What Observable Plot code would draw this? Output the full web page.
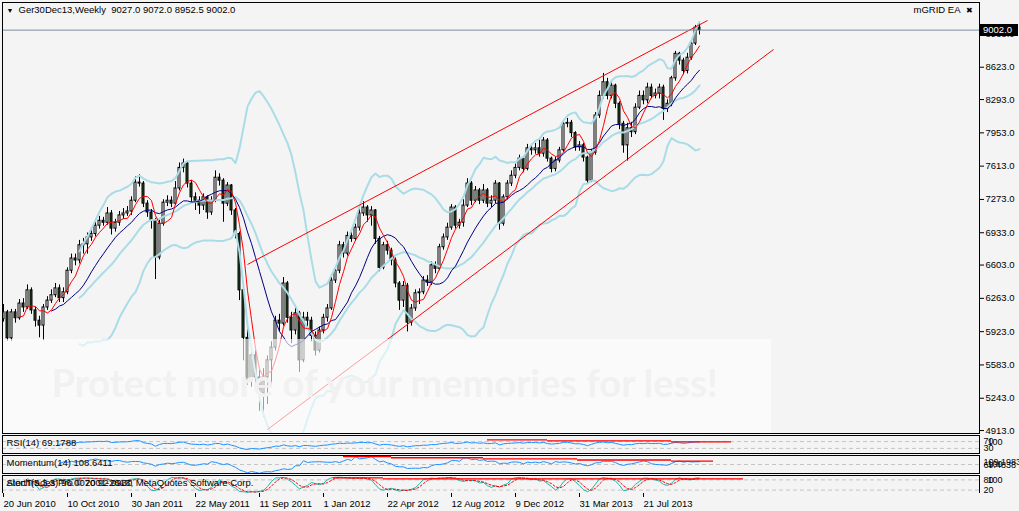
<!DOCTYPE html>
<html><head><meta charset="utf-8">
<script src="https://cdn.jsdelivr.net/npm/d3@7"></script>
<script src="https://cdn.jsdelivr.net/npm/@observablehq/plot@0.6"></script>
<style>
html,body{margin:0;padding:0;background:#f4f4f4;}
#wrap{position:relative;width:1019px;height:511px;overflow:hidden;background:#f4f4f4;}
#wrap svg{position:absolute;left:0;}
</style></head><body><div id="wrap"></div>
<script>
// ---- DATA (weekly Ger30 Dec13) ----
const closes = [6120,5855,6120,6060,6210,6170,6345,6140,6035,5985,6170,6240,6295,6365,6265,6325,6545,6670,6650,6805,
6815,6885,6920,7005,7055,7035,7130,6975,7035,7110,7130,7150,7260,7445,7435,7230,7140,7055,6680,7025,
7240,7260,7230,7385,7595,7640,7435,7295,7260,7210,7295,7140,7260,7495,7465,7230,7415,7160,6920,6345,
5860,5425,5680,5455,5290,5455,5630,5760,6035,6005,6415,6065,5935,6110,5630,6065,6035,5880,5730,5935,
6065,6160,6445,6545,6805,6720,6900,6870,6985,7130,7190,7110,7160,6870,6575,6805,6750,6650,6415,6240,
6390,6015,6160,6315,6325,6445,6425,6600,6565,6785,6885,6985,7190,7005,7035,7210,7435,7260,7365,7260,
7365,7230,7260,7435,7025,7295,7435,7515,7595,7690,7585,7795,7775,7795,7740,7875,7690,7585,7670,7775,
8045,8055,7950,7805,7825,7700,7465,7750,8130,8330,8470,8330,8435,8250,8045,7825,8000,7960,8210,8330,
8285,8415,8330,8355,8415,8200,8250,8510,8760,8690,8585,8720,8865,9027,9002];
const highs = [6200,6140,6150,6150,6250,6260,6400,6370,6170,6080,6200,6280,6350,6415,6400,6370,6575,6715,6715,6855,
6875,6930,6970,7070,7100,7090,7190,7160,7070,7150,7180,7200,7300,7505,7525,7455,7260,7170,7080,7060,
7270,7310,7300,7455,7645,7685,7655,7465,7340,7300,7330,7310,7300,7565,7535,7485,7445,7425,7180,6940,
6360,5970,5745,5725,5525,5545,5675,5820,6080,6100,6475,6435,6120,6170,6130,6120,6120,6070,5920,5970,
6100,6200,6475,6585,6845,6835,6940,6950,7020,7170,7250,7210,7200,7170,6895,6835,6845,6775,6675,6435,
6435,6415,6200,6350,6360,6485,6495,6635,6635,6815,6920,7030,7220,7210,7070,7270,7485,7455,7405,7385,
7425,7385,7310,7465,7445,7320,7465,7565,7635,7725,7705,7835,7835,7845,7895,7905,7895,7705,7705,7805,
8070,8100,8080,7965,7865,7845,7715,7785,8160,8380,8560,8510,8470,8450,8270,8070,8050,8060,8250,8380,
8380,8460,8450,8400,8450,8440,8290,8530,8785,8775,8715,8765,8905,9050,9072];
const lows = [6020,5825,5825,6010,6040,6120,6150,6100,5970,5860,5830,6140,6210,6270,6220,6220,6300,6515,6595,6615,
6715,6715,6845,6890,6970,7000,7010,6910,6940,7000,7070,7100,7110,7240,7400,7190,7090,6970,6455,6655,
7000,7200,7190,7210,7360,7545,7390,7240,7160,7120,7160,7070,7110,7240,7410,7040,7200,7110,6870,6240,
5625,5375,5355,5375,5110,5050,5180,5375,5725,5920,5980,6010,5800,5890,5505,5605,5970,5820,5675,5705,
5900,6020,6140,6415,6515,6675,6695,6835,6845,6950,7100,7040,7000,6815,6535,6555,6705,6595,6370,6140,
6170,5920,5980,6130,6200,6300,6385,6395,6515,6545,6755,6855,6960,6970,6970,6990,7190,7210,7240,7220,
7230,7190,7190,7230,6960,7000,7270,7405,7485,7565,7545,7565,7725,7735,7705,7705,7655,7545,7555,7645,
7755,8005,7905,7765,7765,7655,7425,7445,7725,8100,8300,8290,8300,8200,7985,7745,7665,7905,7935,8190,
8240,8250,8300,8300,8300,8080,8160,8220,8480,8645,8545,8555,8695,8845,8952.5];
const firstOpen = 6050;
const lastPrice = 9002.0;
const priceTicks = [8963, 8623, 8293, 7953, 7613, 7273, 6933, 6603, 6263, 5923, 5583, 5243, 4913];
const dateTickIndex = [0,16,32,48,64,80,96,112,128,144,160];
const dateTickLabels = ["20 Jun 2010","10 Oct 2010","30 Jan 2011","22 May 2011","11 Sep 2011","1 Jan 2012",
  "22 Apr 2012","12 Aug 2012","9 Dec 2012","31 Mar 2013","21 Jul 2013"];
// trend lines: [startIndex, startPrice, endIndex, endPrice]
const trendUpper = [61, 6609, 176, 9100];
const trendLower = [66, 4924, 192.5, 8804];
const rsiLevels = [30, 70];
const stochLevels = [20, 80];
const momLevels = [100];
const momDomain = [72, 128];
// red EA level segments: [fromIndex, toIndex, value]
const rsiSegments = [[121,136,80],[136,167,74],[167,182,68]];
const momSegments = [[85,97,124.5],[97,120,121],[120,143.5,117.5],[143.5,167,114],[167,177.5,110.5]];
const stochSegments = [[82.5,95,92],[95,185,86]];
const titleText = "Ger30Dec13,Weekly  9027.0 9072.0 8952.5 9002.0";
const eaText = "mGRID EA";
const rsiText = "RSI(14) 69.1788";
const momText = "Momentum(14) 108.6411";
const stochText = "Stoch(5,3,3) 96.0070 92.0930";
const copyText = "AlertTrades Pro © 2001-2013, MetaQuotes Software Corp.";
const watermark = "Protect more of your memories for less!";
const rsiRight = [[70, "70"], [66, "100"], [30, "30"]];
const momRight = [[107, "109.1983"], [100, "100"], [97, "69.4838"]];
const stochRight = [[80, "80"], [76, "100"], [20, "20"]];

// ---- derived ----
const bars = closes.map((c, i) => {
  const o = i ? closes[i - 1] : firstOpen;
  return {i, o, c, h: Math.max(highs[i], o, c), l: Math.min(lows[i], o, c)};
});
function sma(arr, n) { return arr.map((_, i) => i < n - 1 ? NaN : d3.mean(arr.slice(i - n + 1, i + 1))); }
function sd(arr, n) { return arr.map((_, i) => i < n - 1 ? NaN : d3.deviation(arr.slice(i - n + 1, i + 1)) * Math.sqrt((n - 1) / n)); }
const ma5 = sma(closes, 5), ma13 = sma(closes, 13), mid20 = sma(closes, 20), sd20 = sd(closes, 20);
const series = (vals) => vals.map((v, i) => ({i, v}));
function rsi(c, n) {
  const out = c.map(() => NaN); let g = 0, l = 0;
  for (let i = 1; i <= n; i++) { const d = c[i] - c[i - 1]; if (d > 0) g += d; else l -= d; }
  g /= n; l /= n; out[n] = 100 - 100 / (1 + g / l);
  for (let i = n + 1; i < c.length; i++) {
    const d = c[i] - c[i - 1];
    g = (g * (n - 1) + Math.max(d, 0)) / n; l = (l * (n - 1) + Math.max(-d, 0)) / n;
    out[i] = l === 0 ? 100 : 100 - 100 / (1 + g / l);
  }
  return out;
}
const rsiV = rsi(closes, 14);
const momV = closes.map((c, i) => i < 14 ? NaN : c / closes[i - 14] * 100);
const kRaw = closes.map((c, i) => {
  if (i < 6) return NaN;
  let num = 0, den = 0;
  for (let j = i - 2; j <= i; j++) {
    const hh = d3.max(highs.slice(j - 4, j + 1)), ll = d3.min(lows.slice(j - 4, j + 1));
    num += closes[j] - ll; den += hh - ll;
  }
  return den ? num / den * 100 : 100;
});
const dSig = kRaw.map((_, i) => i < 8 ? NaN : d3.mean(kRaw.slice(i - 2, i + 1)));

// ---- layout ----
const W = 1019;
const xDom = [-0.25, 244];
const FONT = "'Liberation Sans', Arial, sans-serif";
const baseStyle = {background: "#f4f4f4", fontFamily: FONT, fontSize: "9.5px", color: "#000", overflow: "visible"};
const wrap = document.getElementById("wrap");
function place(svg, top) { svg.style.top = top + "px"; wrap.appendChild(svg); }

// photo-host watermark banner
function banner() {
  return d3.create("svg:rect").attr("x", 0).attr("y", 339).attr("width", 771).attr("height", 94)
    .attr("fill", "#fdfdfd").attr("fill-opacity", 0.62).node();
}
function priceBox(index, scales, values, dims) {
  const py = Math.round(scales.y(lastPrice));
  const x0 = dims.width - dims.marginRight + 1;
  const g = d3.create("svg:g");
  g.append("rect").attr("x", x0).attr("y", py - 6).attr("width", 38).attr("height", 12).attr("fill", "#000");
  g.append("text").attr("x", x0 + 3).attr("y", py).attr("dy", "0.35em").attr("fill", "#fff")
    .attr("text-anchor", "start").attr("font-size", "9.5px").text(lastPrice.toFixed(1));
  return g.node();
}

const main = Plot.plot({
  width: W, height: 434, marginLeft: 2, marginRight: 40, marginTop: 2, marginBottom: 1,
  x: {type: "linear", domain: xDom, axis: null},
  y: {type: "linear", domain: [4883, 9284]},
  color: {type: "identity"},
  style: baseStyle,
  marks: [
    Plot.ruleX(bars, {x: "i", y1: "l", y2: "h", stroke: "#000", strokeWidth: 1, clip: true}),
    Plot.rect(bars, {x1: d => d.i - 0.25, x2: d => d.i + 0.25, y1: "o", y2: "c",
      fill: d => d.c >= d.o ? "#ffffff" : "#1e4b1e", stroke: "#000", strokeWidth: 1, clip: true}),
    Plot.line(series(mid20.map((m, i) => m + 2 * sd20[i])), {x: "i", y: "v", stroke: "#aadce7", strokeWidth: 2, clip: true}),
    Plot.line(series(mid20), {x: "i", y: "v", stroke: "#aadce7", strokeWidth: 2, clip: true}),
    Plot.line(series(mid20.map((m, i) => m - 2 * sd20[i])), {x: "i", y: "v", stroke: "#aadce7", strokeWidth: 2, clip: true}),
    Plot.line(series(ma13), {x: "i", y: "v", stroke: "#000080", strokeWidth: 1, clip: true}),
    Plot.line(series(ma5), {x: "i", y: "v", stroke: "#ff0000", strokeWidth: 1, clip: true}),
    Plot.link([trendUpper, trendLower], {x1: d => d[0], y1: d => d[1], x2: d => d[2], y2: d => d[3], stroke: "#ff0000", strokeWidth: 1}),
    Plot.ruleY([lastPrice], {stroke: "#7b8ba0", strokeWidth: 1}),
    banner,
    Plot.text([watermark], {frameAnchor: "bottom-left", dx: 49, dy: -37, textAnchor: "start", lineAnchor: "bottom",
      fontSize: 38, fontWeight: "bold", fill: "#f1f1f1", fontFamily: "Lato, 'Open Sans', sans-serif"}),
    Plot.axisY({anchor: "right", ticks: priceTicks, tickFormat: d => d.toFixed(1), tickSize: 4, tickPadding: 2}),
    priceBox,
    Plot.text(["▼"], {frameAnchor: "top-left", dx: 4, dy: 6, textAnchor: "start", lineAnchor: "top", fontSize: 7}),
    Plot.text([titleText], {frameAnchor: "top-left", dx: 16, dy: 4, textAnchor: "start", lineAnchor: "top"}),
    Plot.text([eaText], {frameAnchor: "top-right", dx: -19, dy: 4, textAnchor: "end", lineAnchor: "top"}),
    Plot.text(["✖"], {frameAnchor: "top-right", dx: -7, dy: 5, textAnchor: "end", lineAnchor: "top", fontSize: 8}),
    Plot.frame({stroke: "#000"})
  ]
});
place(main, 0);

function panel({top, domain, insetTop, levels, lines, segs, label, label2, rightLabels}) {
  const marks = [
    Plot.ruleY(levels, {stroke: "#c4c4c4", strokeDasharray: "4,3"}),
    ...lines,
    Plot.ruleY(segs, {x1: d => d[0], x2: d => d[1], y: d => d[2], stroke: "#ff0000", strokeWidth: 1.3}),
    Plot.text([label], {frameAnchor: "top-left", dx: 4, dy: 4, textAnchor: "start", lineAnchor: "top"})
  ];
  if (label2) marks.push(Plot.text([label2], {frameAnchor: "top-left", dx: 4, dy: 4, textAnchor: "start", lineAnchor: "top"}));
  const lead = rightLabels.filter(d => d[1] !== "100");
  const hundred = rightLabels.filter(d => d[1] === "100");
  marks.push(Plot.text(lead, {y: d => d[0], text: d => d[1], frameAnchor: "right", textAnchor: "start", dx: 4, fontSize: 9}));
  marks.push(Plot.text(hundred, {y: d => d[0], text: d => d[1], frameAnchor: "right", textAnchor: "start", dx: 8, fontSize: 9}));
  marks.push(Plot.frame({stroke: "#000"}));
  const svg = Plot.plot({
    width: W, height: 20, marginLeft: 2, marginRight: 40, marginTop: 1, marginBottom: 1,
    x: {type: "linear", domain: xDom, axis: null},
    y: {type: "linear", domain, axis: null, insetTop},
    style: baseStyle, marks
  });
  place(svg, top);
  return svg;
}

panel({top: 434, domain: [0, 100], insetTop: 1, levels: rsiLevels,
  lines: [Plot.line(series(rsiV), {x: "i", y: "v", stroke: "#1e90ff", strokeWidth: 1, clip: true})],
  segs: rsiSegments, label: rsiText, rightLabels: rsiRight});
panel({top: 454, domain: momDomain, insetTop: 0, levels: momLevels,
  lines: [Plot.line(series(momV), {x: "i", y: "v", stroke: "#1e90ff", strokeWidth: 1, clip: true})],
  segs: momSegments, label: momText, rightLabels: momRight});
panel({top: 474, domain: [0, 100], insetTop: 1, levels: stochLevels,
  lines: [Plot.line(series(kRaw), {x: "i", y: "v", stroke: "#20b2aa", strokeWidth: 1, clip: true}),
          Plot.line(series(dSig), {x: "i", y: "v", stroke: "#ff0000", strokeWidth: 1, strokeDasharray: "2,2", clip: true})],
  segs: stochSegments, label: stochText, label2: copyText, rightLabels: stochRight});

const axisSvg = Plot.plot({
  width: W, height: 18, marginLeft: 2, marginRight: 40, marginTop: 0, marginBottom: 18,
  x: {type: "linear", domain: xDom, axis: null},
  style: baseStyle,
  marks: [
    Plot.axisX({anchor: "bottom", ticks: dateTickIndex, tickFormat: d => dateTickLabels[dateTickIndex.indexOf(d)],
      tickSize: 4, tickPadding: 3, textAnchor: "start"})
  ]
});
place(axisSvg, 493);
</script></body></html>
